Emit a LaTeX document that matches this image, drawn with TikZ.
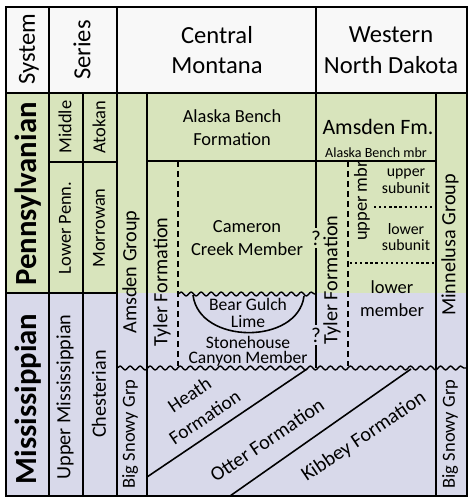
\documentclass[tikz,border=0pt]{standalone}
\usepackage{fontspec}
\setmainfont{Carlito}
\usetikzlibrary{decorations.pathmorphing}
\definecolor{pennGreen}{RGB}{216,228,188}
\definecolor{missBlue}{RGB}{216,217,234}
\definecolor{headGray}{RGB}{248,248,248}
\tikzset{
    rule/.style={line width=0.9pt},
    dashrule/.style={line width=0.8pt, dash pattern=on 3.5pt off 2.2pt},
    dotrule/.style={line width=1.3pt, dash pattern=on 1.3pt off 1.6pt},
    wavy/.style={line width=0.8pt, decorate, decoration={snake, segment length=5.7pt, amplitude=1.1pt}},
    headtext/.style={font=\fontsize{14}{17.5}\selectfont, align=center, inner sep=0pt},
    unittext/.style={font=\fontsize{10.5}{13}\selectfont, align=center, inner sep=0pt},
    subtext/.style={font=\fontsize{9}{9.5}\selectfont, align=center, inner sep=0pt},
    mbrtext/.style={font=\fontsize{8}{9}\selectfont, align=center, inner sep=0pt},
    periodtext/.style={font=\bfseries\fontsize{17.5}{20}\selectfont, rotate=90, inner sep=0pt},
    vertunit/.style={unittext, rotate=90},
    vertbig/.style={vertunit, font=\fontsize{11.5}{13}\selectfont},
    slanttext/.style={unittext, font=\fontsize{11.5}{13}\selectfont, rotate=34},
    qmark/.style={font=\fontsize{12}{13}\selectfont, inner sep=1.5pt}
}
\begin{document}
\begin{tikzpicture}[x=0.02cm, y=-0.02cm]
    \useasboundingbox (0,0) rectangle (474,503);

    % Background colours
    \fill[headGray] (6,7) rectangle (467,93);
    \fill[pennGreen] (6,93) rectangle (467,293);
    \fill[missBlue] (6,293) rectangle (467,496);

    % Table rules
    \draw[rule] (6,7) rectangle (467,496);
    \draw[rule] (6,93) -- (467,93);
    \draw[rule] (6,293) -- (117,293);
    \draw[rule] (49,162) -- (117,162);
    \draw[rule] (147,161) -- (436,161);
    \draw[rule] (49,7) -- (49,496);
    \draw[rule] (83,93) -- (83,496);
    \draw[rule] (117,7) -- (117,496);
    \draw[rule] (147,93) -- (147,496);
    \draw[rule] (436,93) -- (436,496);

    % Uncertain contact between the two areas
    \coordinate (cmtop) at (316,7);
    \coordinate (cmbot) at (316,368);
    \node[qmark] (q1) at (316,238) {?};
    \node[qmark] (q2) at (316,335) {?};
    \draw[rule] (cmtop) -- (q1) -- (q2) -- (cmbot);

    % Gradational contacts
    \draw[dashrule] (178,161) -- (178,366);
    \draw[dashrule] (348,161) -- (348,366);
    \draw[dotrule] (374,207) -- (436,207);
    \draw[dotrule] (350,263) -- (436,263);

    % Unconformities
    \draw[wavy] (117,368) -- (467,368);
    \draw[wavy] (178,294) -- (316,294);

    % Bear Gulch lens
    \draw[rule] (193,295) .. controls (199,345) and (298,345) .. (304,296);

    % Big Snowy formations
    \draw[rule] (147,477) -- (307,369);
    \draw[rule] (230,496) -- (411,369);

    % Header
    \node[headtext, rotate=90] (system) at (29,49) {System};
    \node[headtext, rotate=90] (series) at (82,50) {Series};
    \node[headtext] (cmont) at (217,50) {Central\\Montana};
    \node[headtext] (wnd) at (391,50) {Western\\North Dakota};

    % Systems and series
    \node[periodtext] (penn) at (28,194) {Pennsylvanian};
    \node[periodtext] (miss) at (28,399) {Mississippian};
    \node[vertunit] (middle) at (65,127) {Middle};
    \node[vertunit] (atokan) at (99,127) {Atokan};
    \node[vertunit] (lowpenn) at (65,228) {Lower Penn.};
    \node[vertunit] (morrow) at (99,228) {Morrowan};
    \node[vertbig] (upmiss) at (65,397) {Upper Mississippian};
    \node[vertbig] (chester) at (99,394) {Chesterian};

    % Central Montana
    \node[vertbig] (amsgrp) at (131,272) {Amsden Group};
    \node[vertunit] (bsgcm) at (130,434) {Big Snowy Grp};
    \node[vertbig] (tylcm) at (162,282) {Tyler Formation};
    \node[unittext] (abform) at (232,128) {Alaska Bench\\Formation};
    \node[unittext] (cameron) at (247,238) {Cameron\\Creek Member};
    \node[font=\fontsize{10}{9.5}\selectfont, align=center, inner sep=0pt] (beargulch) at (248,313) {Bear Gulch\\Lime};
    \node[font=\fontsize{10}{8.5}\selectfont, align=center, inner sep=0pt] (stonehouse) at (248,351) {Stonehouse\\Canyon Member};
    \node[slanttext, font=\fontsize{11}{15.5}\selectfont] (heath) at (197,406) {Heath\\Formation};
    \node[slanttext] (otter) at (267,440) {Otter Formation};
    \node[slanttext] (kibbey) at (364,437) {Kibbey Formation};

    % Western North Dakota
    \node[font=\fontsize{12.5}{14}\selectfont, inner sep=0pt] (amsfm) at (378,127) {Amsden Fm.};
    \node[mbrtext] (abmbr) at (376,153) {Alaska Bench mbr};
    \node[vertbig] (tylwnd) at (332,280) {Tyler Formation};
    \node[vertunit] (uppmbr) at (362,201) {upper mbr};
    \node[subtext] (upsub) at (406,181) {upper\\subunit};
    \node[subtext] (lowsub) at (406,237) {lower\\subunit};
    \node[unittext] (lowmbr) at (392,299) {lower\\member};
    \node[vertbig] (minne) at (450,245) {Minnelusa Group};
    \node[vertunit] (bsgwnd) at (450,434) {Big Snowy Grp};
\end{tikzpicture}
\end{document}
